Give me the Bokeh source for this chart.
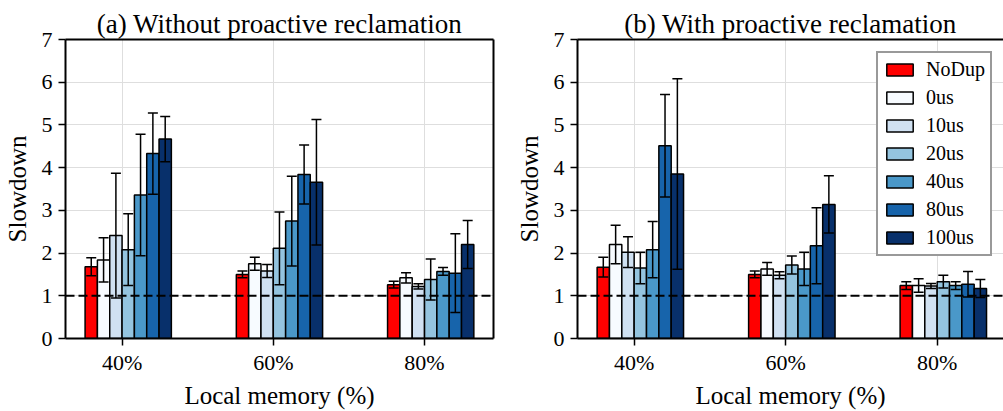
from bokeh.plotting import figure
from bokeh.layouts import row
from bokeh.models import (ColumnDataSource, Range1d, FixedTicker, Span, Legend,
                          LegendItem, LinearAxis, Title)
from bokeh.embed import file_html
from bokeh.resources import INLINE

FONT = "Liberation Serif"

categories = ["40%", "60%", "80%"]
series = ["NoDup", "0us", "10us", "20us", "40us", "80us", "100us"]
colors = ["#ff0000", "#f7fbff", "#d0e1f2", "#94c4df", "#4a98c9", "#1764ab", "#08306b"]

# mean slowdown per series (rows) for 40% / 60% / 80% local memory (columns)
without_mean = [
    [1.68, 1.50, 1.26],
    [1.84, 1.75, 1.42],
    [2.41, 1.58, 1.22],
    [2.08, 2.11, 1.38],
    [3.36, 2.75, 1.57],
    [4.33, 3.84, 1.53],
    [4.67, 3.66, 2.20],
]
without_std = [
    [0.21, 0.08, 0.08],
    [0.52, 0.15, 0.12],
    [1.46, 0.15, 0.06],
    [0.84, 0.85, 0.48],
    [1.42, 1.05, 0.09],
    [0.95, 0.69, 0.92],
    [0.53, 1.47, 0.56],
]
with_mean = [
    [1.67, 1.50, 1.24],
    [2.20, 1.63, 1.24],
    [2.02, 1.48, 1.23],
    [1.65, 1.72, 1.33],
    [2.08, 1.63, 1.24],
    [4.51, 2.17, 1.27],
    [3.85, 3.14, 1.17],
]
with_std = [
    [0.23, 0.08, 0.09],
    [0.45, 0.15, 0.16],
    [0.36, 0.08, 0.06],
    [0.37, 0.21, 0.15],
    [0.66, 0.39, 0.09],
    [1.20, 0.89, 0.30],
    [2.23, 0.67, 0.21],
]

BAR_W = 0.0815
X_START = -0.374


def style_axis(ax):
    ax.axis_line_width = 2
    ax.axis_line_color = "black"
    ax.major_tick_line_width = 1.5
    ax.major_tick_line_color = "black"
    ax.major_tick_out = 7
    ax.major_tick_in = 0
    ax.minor_tick_line_color = None
    ax.major_label_text_font = FONT
    ax.major_label_text_font_size = "22px"
    ax.major_label_text_color = "black"
    ax.axis_label_text_font = FONT
    ax.axis_label_text_font_size = "25px"
    ax.axis_label_text_font_style = "normal"
    ax.axis_label_text_color = "black"


def bare_axis(ax):
    # plain spine: no ticks, no labels
    ax.ticker = FixedTicker(ticks=[])
    ax.axis_line_width = 2
    ax.axis_line_color = "black"
    ax.major_tick_line_color = None
    ax.minor_tick_line_color = None
    ax.major_tick_out = 0
    ax.major_tick_in = 0
    ax.minor_tick_out = 0
    ax.minor_tick_in = 0
    ax.major_label_standoff = 0
    ax.major_label_text_font_size = "0px"


def make_panel(title, means, stds, x_end, width, border_left, border_right, with_right_spine):
    p = figure(width=width, height=411, x_range=Range1d(X_START, x_end), y_range=Range1d(0, 7),
               output_backend="svg", toolbar_location=None,
               min_border_left=border_left, min_border_right=border_right,
               min_border_top=39, min_border_bottom=72)
    p.outline_line_color = None
    p.background_fill_color = "white"
    p.border_fill_color = "white"

    p.title = Title(text=title, align="center", text_font=FONT, text_font_size="27px",
                    text_font_style="normal", text_color="black", standoff=2)

    p.xaxis.ticker = FixedTicker(ticks=[0, 1, 2])
    p.xaxis.major_label_overrides = {i: c for i, c in enumerate(categories)}
    p.xaxis.axis_label = "Local memory (%)"
    p.yaxis.ticker = FixedTicker(ticks=list(range(8)))
    p.yaxis.axis_label = "Slowdown"
    style_axis(p.xaxis[0])
    style_axis(p.yaxis[0])
    p.xaxis.major_label_standoff = 4
    p.yaxis.major_label_standoff = 6
    p.xaxis.axis_label_standoff = 4
    p.yaxis.axis_label_standoff = 8

    top_ax = LinearAxis()
    bare_axis(top_ax)
    p.add_layout(top_ax, "above")
    if with_right_spine:
        right_ax = LinearAxis()
        bare_axis(right_ax)
        p.add_layout(right_ax, "right")

    p.xgrid.ticker = FixedTicker(ticks=[0, 1, 2])
    p.ygrid.ticker = FixedTicker(ticks=list(range(8)))
    p.grid.grid_line_color = "#dedede"
    p.grid.grid_line_width = 1

    bars = []
    err_sources = []
    for i, name in enumerate(series):
        xs = [k + (i - 2.5) * BAR_W for k in range(len(categories))]
        m = means[i]
        s = stds[i]
        src = ColumnDataSource(dict(
            x=xs, top=m,
            lo=[a - b for a, b in zip(m, s)],
            hi=[a + b for a, b in zip(m, s)],
        ))
        r = p.vbar(x="x", top="top", bottom=0, width=BAR_W, source=src,
                   fill_color=colors[i], line_color="black", line_width=1.5)
        bars.append(r)
        err_sources.append(src)

    # error bars sit above every bar
    for src in err_sources:
        p.segment(x0="x", y0="lo", x1="x", y1="hi", source=src, line_color="black", line_width=1.5)
        p.dash(x="x", y="hi", size=10, source=src, line_color="black", line_width=1.5)
        p.dash(x="x", y="lo", size=10, source=src, line_color="black", line_width=1.5)

    p.add_layout(Span(location=1, dimension="width", line_color="black",
                      line_width=2, line_dash="9 4"))
    return p, bars


left, _ = make_panel("(a) Without proactive reclamation", without_mean, without_std,
                     2.456, 510, 64, 17, True)
right, right_bars = make_panel("(b) With proactive reclamation", with_mean, with_std,
                               2.438, 493, 67, 0, False)

legend = Legend(items=[LegendItem(label=s, renderers=[r]) for s, r in zip(series, right_bars)],
                location=(299, 82))
legend.label_text_font = FONT
legend.label_text_font_size = "20px"
legend.label_text_color = "black"
legend.glyph_width = 33
legend.glyph_height = 15
legend.label_standoff = 10
legend.padding = 5
legend.spacing = 5
legend.margin = 0
legend.border_line_color = "#333333"
legend.border_line_width = 2
legend.background_fill_color = "white"
legend.background_fill_alpha = 1
right.add_layout(legend)

layout = row(left, right, spacing=0)

with open("out.html", "w") as f:
    f.write(file_html(layout, INLINE))
